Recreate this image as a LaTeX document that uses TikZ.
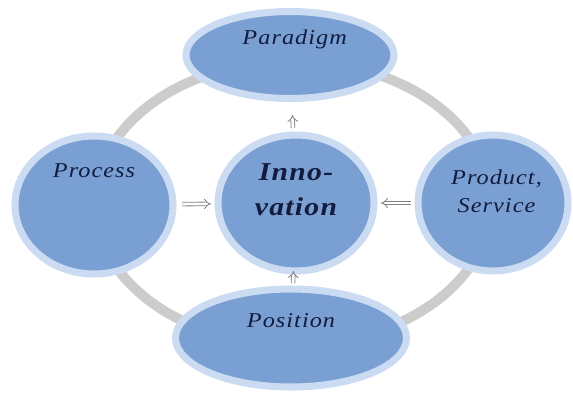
\documentclass[tikz,border=0pt]{standalone}
\usepackage{fontspec}
\newfontfamily\lblfont[FakeStretch=1.15,LetterSpace=5]{Liberation Serif}
\usetikzlibrary{shapes,arrows.meta,positioning,calc}
\usepackage{xcolor}
\definecolor{bubbleblue}{RGB}{122,159,211}
\definecolor{bubbleedge}{RGB}{203,220,242}
\definecolor{ringgray}{RGB}{204,204,204}
\definecolor{labelnavy}{RGB}{18,28,62}
\tikzset{
    bubble/.style={ellipse, draw=bubbleedge, fill=bubbleblue, line width=6pt, inner sep=0pt},
    lbl/.style={font=\lblfont\itshape\fontsize{18}{24}\selectfont, text=labelnavy, align=center},
    core/.style={font=\lblfont\bfseries\itshape\fontsize{22}{30}\selectfont, text=labelnavy, align=center},
    ring/.style={line width=8.5pt, draw=ringgray},
    flow/.style={draw=gray, line width=0.7pt, double=white, double distance=2.4pt, -{Implies[scale=1.2]}}
}

\begin{document}
\begin{tikzpicture}[x=0.03cm, y=-0.03cm]
    \useasboundingbox (0,0) rectangle (573,392);
    % Ring behind the bubbles
    \draw[ring] (293,203) ellipse [x radius=198, y radius=142];
    % Bubbles
    \node[bubble, minimum width=6.24cm, minimum height=2.61cm,
          label={[lbl, xshift=4pt, yshift=13pt]center:Paradigm}] (para) at (290,55) {};
    \node[bubble, minimum width=4.74cm, minimum height=4.14cm,
          label={[lbl, yshift=29pt]center:Process}] (proc) at (94,205) {};
    \node[bubble, minimum width=4.5cm, minimum height=4.08cm,
          label={[lbl, xshift=3pt, yshift=10pt]center:Product,\\Service}] (prod) at (493,203) {};
    \node[bubble, minimum width=6.93cm, minimum height=2.94cm,
          label={[lbl, yshift=15pt]center:Position}] (pos) at (291,338) {};
    \node[bubble, minimum width=4.68cm, minimum height=4.08cm,
          label={[core, yshift=11pt]center:Inno-\\vation}] (inno) at (296,203) {};
    % Arrows
    \draw[flow, shorten <=5pt, shorten >=3pt] (proc) -- (inno);
    \draw[flow, shorten <=3pt, shorten >=3pt] (prod) -- (inno);
    \draw[flow, shorten <=3pt, shorten >=11pt] (inno) -- (para);
    \draw[flow, shorten <=2pt, shorten >=-3pt] (pos) -- (inno);
\end{tikzpicture}
\end{document}
